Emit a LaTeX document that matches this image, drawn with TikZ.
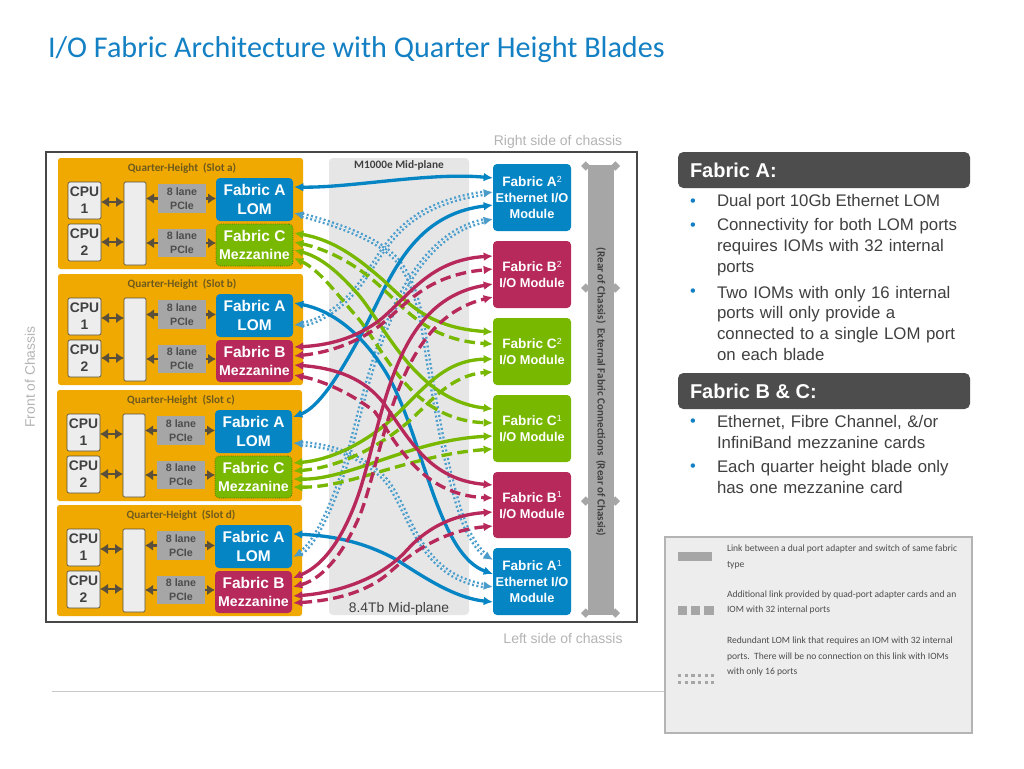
\documentclass[tikz,border=0pt]{standalone}
\usepackage{fontspec}
\setmainfont{Liberation Sans}
\newfontfamily\corb{Carlito}
\usetikzlibrary{arrows.meta,calc}
\definecolor{tblue}{HTML}{1480C4}
\definecolor{fblue}{HTML}{0685C5}
\definecolor{dotblue}{HTML}{4A9CCB}
\definecolor{fgreen}{HTML}{78B800}
\definecolor{fmag}{HTML}{B7295A}
\definecolor{orng}{HTML}{F0A900}
\definecolor{gbox}{HTML}{A6A6A6}
\definecolor{mid}{HTML}{E6E6E6}
\definecolor{lite}{HTML}{EDEDED}
\definecolor{brn}{HTML}{594F3A}
\definecolor{dk}{HTML}{404040}
\definecolor{hdr}{HTML}{4D4D4D}
\definecolor{sidegray}{HTML}{B4B4B4}
\definecolor{slottxt}{HTML}{6E5A1E}
\newcommand\supn[1]{\raisebox{3.2pt}{\fontsize{6.6}{7}\selectfont\mdseries #1}}
\newcommand\pbox[7]{%
 \pgfmathsetmacro\bw{(#4-(#2))*0.75}%
 \pgfmathsetmacro\bh{(#5-(#3))*0.75}%
 \pgfmathsetmacro\bx{((#2)+(#4))/2}%
 \pgfmathsetmacro\by{((#3)+(#5))/2}%
 \node[#6,minimum width=\bw pt,minimum height=\bh pt] (#1) at (\bx,\by) {#7};}
\tikzset{
 base/.style={rectangle,inner sep=0pt,outer sep=0pt,align=center},
 slotbox/.style={base,fill=orng,rounded corners=2pt},
 cpubox/.style={base,fill=lite,draw=brn,line width=0.5pt,rounded corners=1.5pt,text=dk,font=\bfseries\fontsize{10.4}{12.6}\selectfont},
 bridge/.style={base,fill=lite,draw=brn,line width=0.5pt,rounded corners=1pt},
 pcie/.style={base,fill=gbox,text=hdr,font=\bfseries\fontsize{8}{10.5}\selectfont},
 fabbox/.style={base,rounded corners=3pt,text=white,font=\bfseries\fontsize{11.6}{14}\selectfont},
 iom/.style={base,rounded corners=3pt,text=white,font=\bfseries\fontsize{10.2}{12}\selectfont},
 slottitle/.style={base,text=slottxt,font=\corb\bfseries\fontsize{8.4}{10}\selectfont},
 biarrow/.style={brn,line width=1.7pt,{Latex[length=6pt,width=8pt]}-{Latex[length=6pt,width=8pt]}},
 onearrow/.style={brn,line width=1.7pt,-{Latex[length=6pt,width=8pt]}},
 lnk/.style={line width=2.5pt,{Latex[length=7pt,width=6.5pt]}-{Latex[length=7pt,width=6.5pt]}},
 sol/.style={lnk},
 dsh/.style={lnk,dash pattern=on 8pt off 4pt},
 dbl/.style={dotblue,line width=1.8pt,double=white,double distance=0.6pt,dash pattern=on 1.4pt off 1.9pt,{Latex[length=7pt,width=6.5pt]}-{Latex[length=7pt,width=6.5pt]}},
 rail/.style={gbox,line width=1.6pt,{Diamond[length=7pt,width=7pt]}-{Diamond[length=7pt,width=7pt]}},
 side/.style={base,text=sidegray,font=\fontsize{10.5}{12}\selectfont},
 head/.style={base,fill=hdr,rounded corners=4pt},
 headtxt/.style={base,anchor=west,text=white,font=\bfseries\fontsize{15}{18}\selectfont},
 bul/.style={base,anchor=west,text=tblue,font=\fontsize{12.3}{15}\selectfont},
 body/.style={base,anchor=west,align=left,text=dk,font=\fontsize{12.6}{15}\selectfont},
 leg/.style={base,anchor=west,align=left,text=hdr,font=\corb\fontsize{7.18}{8}\selectfont},
 legicon/.style={base,fill=gbox},
}
\newcommand\slotunit[7]{% id,dx,dy,letter,fabric,colour,boxextra
 \pbox{slot#1}{58+#2}{158+#3}{303+#2}{269+#3}{slotbox}{}
 \node[slottitle] (title#1) at (182+#2,168+#3) {Quarter-Height\ \ (Slot #4)};
 \pbox{cpua#1}{68+#2}{182+#3}{101+#2}{219+#3}{cpubox}{CPU\\1}
 \pbox{cpub#1}{68+#2}{224+#3}{101+#2}{261+#3}{cpubox}{CPU\\2}
 \pbox{br#1}{124+#2}{182+#3}{146+#2}{265+#3}{bridge}{}
 \pbox{pca#1}{158+#2}{184+#3}{206+#2}{213+#3}{pcie}{8 lane\\PCIe}
 \pbox{pcb#1}{158+#2}{229+#3}{206+#2}{257+#3}{pcie}{8 lane\\PCIe}
 \pbox{lom#1}{216+#2}{178+#3}{293+#2}{221+#3}{fabbox,fill=fblue}{Fabric A\\LOM}
 \pbox{mez#1}{216+#2}{224+#3}{293+#2}{266+#3}{fabbox,fill=#6,#7}{Fabric #5\\[-1pt]{\fontsize{10.6}{13}\selectfont Mezzanine}}
 \draw[biarrow] (cpua#1.east |- 0,202+#3) -- (br#1.west |- 0,202+#3);
 \draw[biarrow] (cpub#1.east |- 0,242+#3) -- (br#1.west |- 0,242+#3);
 \draw[onearrow] (pca#1.west) -- (br#1.east |- pca#1.west);
 \draw[onearrow] (pca#1.east) -- (lom#1.west |- pca#1.east);
 \draw[onearrow] (pcb#1.west) -- (br#1.east |- pcb#1.west);
 \draw[onearrow] (pcb#1.east) -- (mez#1.west |- pcb#1.east);
}
\newcommand\lk[6]{\draw[#1] ($(#2.north east)+(1,#3)$) #6 ($(#4.north west)+(0,#5)$);}
\begin{document}
\begin{tikzpicture}[x=0.75pt,y=-0.75pt]
\useasboundingbox (0,0) rectangle (1024,768);
\fill[white] (0,0) rectangle (1024,768);
\node[base,anchor=west,text=tblue,font=\corb\fontsize{22.6}{28}\selectfont] (title) at (48,50) {I/O Fabric Architecture with Quarter Height Blades};
\node[side] (right) at (558,142) {Right side of chassis};
\node[side] (left) at (563,638) {Left side of chassis};
\node[side,rotate=90,font=\fontsize{10.4}{12}\selectfont] (front) at (30,377) {Front of Chassis};
\coordinate (ruleL) at (52,691);
\coordinate (ruleR) at (665,691);
\draw[black!22,line width=0.6pt] (ruleL) -- (ruleR);
% chassis
\pbox{frame}{46}{152}{637}{622}{base,draw=black!72,line width=1.9pt,fill=white}{}
\pbox{midp}{329}{158}{469}{615}{base,fill=mid,rounded corners=3pt}{}
\node[base,text=dk,font=\corb\bfseries\fontsize{8.5}{10}\selectfont] (midtitle) at (399,165) {M1000e Mid-plane};
\node[base,text=dk,font=\fontsize{10.4}{12}\selectfont] (midlabel) at (399,609) {8.4Tb Mid-plane};
% slots
\slotunit{a}{0}{0}{a}{C}{fgreen}{draw=black!55!fgreen,densely dotted,line width=0.4pt}
\slotunit{b}{0}{116}{b}{B}{fmag}{}
\slotunit{c}{-1}{232}{c}{C}{fgreen}{draw=black!55!fgreen,densely dotted,line width=0.4pt}
\slotunit{d}{-1}{347}{d}{B}{fmag}{}
% IOMs
\pbox{ia2}{493}{164}{571}{231}{iom,fill=fblue}{Fabric A\supn{2}\\{\fontsize{9.6}{12}\selectfont Ethernet I/O}\\{\fontsize{9.6}{12}\selectfont Module}}
\pbox{ib2}{493}{241}{571}{308}{iom,fill=fmag}{Fabric B\supn{2}\\{\fontsize{9.6}{13}\selectfont I/O Module}}
\pbox{ic2}{493}{318}{571}{385}{iom,fill=fgreen}{Fabric C\supn{2}\\{\fontsize{9.6}{13}\selectfont I/O Module}}
\pbox{ic1}{493}{395}{571}{462}{iom,fill=fgreen}{Fabric C\supn{1}\\{\fontsize{9.6}{13}\selectfont I/O Module}}
\pbox{ib1}{493}{472}{571}{538}{iom,fill=fmag}{Fabric B\supn{1}\\{\fontsize{9.6}{13}\selectfont I/O Module}}
\pbox{ia1}{493}{548}{571}{615}{iom,fill=fblue}{Fabric A\supn{1}\\{\fontsize{9.6}{12}\selectfont Ethernet I/O}\\{\fontsize{9.6}{12}\selectfont Module}}
% rear rails
\coordinate (r1l) at (581,166); \coordinate (r1r) at (620,166);
\coordinate (r2l) at (581,288); \coordinate (r2r) at (620,288);
\coordinate (r3l) at (581,501); \coordinate (r3r) at (620,501);
\coordinate (r4l) at (581,613); \coordinate (r4r) at (620,613);
\draw[rail] (r1l) -- (r1r);
\draw[rail] (r2l) -- (r2r);
\draw[rail] (r3l) -- (r3r);
\draw[rail] (r4l) -- (r4r);
\pbox{rear}{588}{166}{614}{615}{base,fill=gbox}{}
\node[base,rotate=-90,text=dk,font=\corb\bfseries\fontsize{8.3}{10}\selectfont] (reartxt) at (601,392) {(Rear of Chassis)\ \ External Fabric Connections\ \ (Rear of Chassis)};
% dotted redundant LOM links
\lk{dbl}{loma}{35}{ia1}{12}{.. controls (340,225) and (372,238) .. (390,253) .. controls (410,270) and (418,300) .. (423,327) .. controls (432,385) and (445,470) .. (463,520) .. controls (470,538) and (480,552) ..}
\lk{dbl}{lomb}{31}{ia2}{28}{.. controls (315,323) and (342,310) .. (363,280) .. controls (385,250) and (400,205) ..}
\lk{dbl}{lomd}{32}{ia2}{55}{.. controls (315,545) and (335,500) .. (347,460) .. controls (365,400) and (390,240) ..}
\lk{dbl}{lomc}{33}{ia1}{39}{.. controls (320,445) and (355,450) .. (383,477) .. controls (410,505) and (415,575) ..}
% blue
\lk{sol,fblue}{loma}{9}{ia2}{14}{.. controls (350,188) and (430,172) ..}
\lk{sol,fblue}{lomb}{9}{ia1}{26}{.. controls (340,312) and (372,345) .. (393,385) .. controls (425,450) and (440,555) ..}
\lk{sol,fblue}{lomc}{7}{ia2}{41}{.. controls (320,407) and (342,370) .. (362,333) .. controls (390,280) and (410,215) ..}
\lk{sol,fblue}{lomd}{9}{ia1}{54}{.. controls (340,536) and (370,545) .. (397,560) .. controls (425,578) and (455,598) ..}
% green
\lk{sol,fgreen}{meza}{9}{ic2}{14}{.. controls (335,240) and (360,260) .. (383,280) .. controls (410,305) and (430,328) ..}
\lk{dsh,fgreen}{meza}{18}{ic2}{26}{.. controls (330,250) and (355,265) .. (373,280) .. controls (405,307) and (425,340) ..}
\lk{sol,fgreen}{meza}{26}{ic1}{14}{.. controls (325,258) and (345,280) .. (357,293) .. controls (385,325) and (415,400) ..}
\lk{dsh,fgreen}{meza}{34}{ic1}{28}{.. controls (320,270) and (340,298) .. (357,317) .. controls (385,350) and (410,420) ..}
\lk{sol,fgreen}{mezc}{7}{ic2}{41}{.. controls (330,460) and (360,445) .. (385,425) .. controls (420,395) and (440,360) ..}
\lk{dsh,fgreen}{mezc}{15}{ic2}{54}{.. controls (335,468) and (375,450) .. (407,423) .. controls (430,403) and (450,375) ..}
\lk{sol,fgreen}{mezc}{23}{ic1}{41}{.. controls (350,480) and (410,440) ..}
\lk{dsh,fgreen}{mezc}{31}{ic1}{54}{.. controls (350,488) and (410,455) ..}
% magenta
\lk{sol,fmag}{mezb}{7}{ib2}{15}{.. controls (335,345) and (360,335) .. (380,320) .. controls (410,295) and (430,260) ..}
\lk{dsh,fmag}{mezb}{16}{ib2}{28}{.. controls (335,352) and (365,338) .. (383,323) .. controls (410,300) and (430,275) ..}
\lk{sol,fmag}{mezb}{25}{ib1}{13}{.. controls (335,368) and (365,378) .. (385,405) .. controls (410,440) and (430,480) ..}
\lk{dsh,fmag}{mezb}{35}{ib1}{26}{.. controls (320,380) and (350,392) .. (375,412) .. controls (395,440) and (420,495) ..}
\lk{sol,fmag}{mezd}{7}{ib2}{43}{.. controls (325,565) and (345,535) .. (360,490) .. controls (385,410) and (395,300) ..}
\lk{dsh,fmag}{mezd}{16}{ib2}{56}{.. controls (325,578) and (345,550) .. (360,515) .. controls (385,450) and (395,320) ..}
\lk{sol,fmag}{mezd}{25}{ib1}{40}{.. controls (335,593) and (380,580) .. (407,550) .. controls (425,530) and (450,515) ..}
\lk{dsh,fmag}{mezd}{32}{ib1}{54}{.. controls (340,600) and (370,590) .. (390,572) .. controls (420,545) and (450,530) ..}
% right panel
\pbox{hA}{678}{152}{970}{188}{head}{}
\node[headtxt] (hAt) at (690,170.5) {Fabric A:};
\node[bul] (b1) at (690,203) {•};
\node[body] (t1) at (717,202) {Dual port 10Gb Ethernet LOM};
\node[bul] (b2) at (690,227) {•};
\node[body,text width=245pt,font=\fontsize{12.6}{15.7}\selectfont] (t2) at (717,247) {Connectivity for both LOM ports\\requires IOMs with 32 internal\\ports};
\node[bul] (b3) at (690,293) {•};
\node[body,text width=245pt,font=\fontsize{12.6}{15.5}\selectfont] (t3) at (717,323) {Two IOMs with only 16 internal\\ports will only provide a\\connected to a single LOM port\\on each blade};
\pbox{hB}{678}{373}{970}{409}{head}{}
\node[headtxt] (hBt) at (690,391.5) {Fabric B \& C:};
\node[bul] (b4) at (690,423) {•};
\node[body,text width=245pt,font=\fontsize{12.6}{15.5}\selectfont] (t4) at (717,432) {Ethernet, Fibre Channel, \&/or\\InfiniBand mezzanine cards};
\node[bul] (b5) at (690,468) {•};
\node[body,text width=245pt,font=\fontsize{12.6}{15.5}\selectfont] (t5) at (717,477) {Each quarter height blade only\\has one mezzanine card};
% legend
\pbox{legbox}{665}{537}{972}{733}{base,fill=lite,draw=sidegray,line width=0.8pt}{}
\pbox{i1}{678}{552}{712}{561}{legicon}{}
\pbox{i2a}{678}{606}{687}{615}{legicon}{}
\pbox{i2b}{691}{606}{700}{615}{legicon}{}
\pbox{i2c}{704}{606}{714}{615}{legicon}{}
\coordinate (i3a) at (678,675.5); \coordinate (i3b) at (714,675.5);
\coordinate (i3c) at (678,682.5); \coordinate (i3d) at (714,682.5);
\draw[gbox,line width=2pt,dash pattern=on 2.6pt off 2.4pt] (i3a) -- (i3b);
\draw[gbox,line width=2pt,dash pattern=on 2.6pt off 2.4pt] (i3c) -- (i3d);
\node[leg] (l1a) at (727,549) {Link between a dual port adapter and switch of same fabric};
\node[leg] (l1b) at (727,565) {type};
\node[leg] (l2a) at (727,595) {Additional link provided by quad-port adapter cards and an};
\node[leg] (l2b) at (727,610) {IOM with 32 internal ports};
\node[leg] (l3a) at (727,641) {Redundant LOM link that requires an IOM with 32 internal};
\node[leg] (l3b) at (727,657) {ports.\ \ There will be no connection on this link with IOMs};
\node[leg] (l3c) at (727,672) {with only 16 ports};
\end{tikzpicture}
\end{document}
